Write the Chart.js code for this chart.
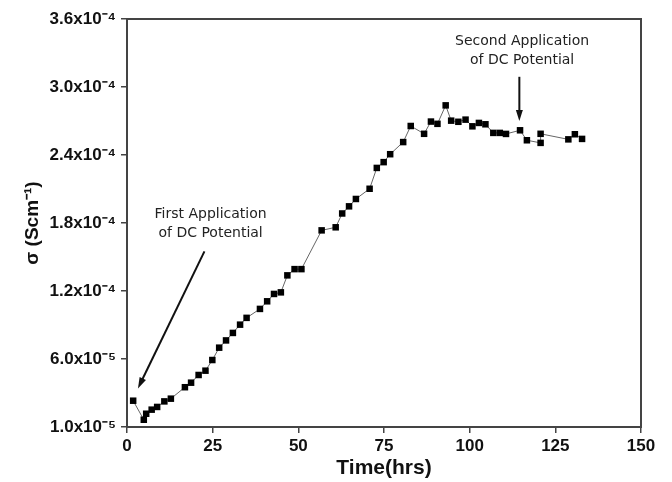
<!DOCTYPE html>
<html>
<head>
<meta charset="utf-8">
<script src="https://cdn.jsdelivr.net/npm/chart.js@4.4.0/dist/chart.umd.min.js"></script>
<style>
  html, body { margin: 0; padding: 0; background: #fff; }
  #wrap { width: 672px; height: 482px; }
</style>
</head>
<body>
<div id="wrap"><canvas id="chart" width="672" height="482"></canvas></div>
<script>
// time in hours, conductivity in units of 1e-5 S/cm
const timeHrs = [1.8, 4.9, 5.6, 7.2, 8.8, 10.9, 12.8, 16.9, 18.7, 20.9,
  22.9, 24.9, 26.9, 28.9, 30.9, 33.0, 34.9, 38.8, 40.9, 42.9,
  44.9, 46.8, 48.9, 50.9, 56.8, 60.9, 62.8, 64.8, 66.8, 70.8,
  72.9, 74.9, 76.8, 80.6, 82.8, 86.7, 88.7, 90.6, 93.0, 94.6,
  96.7, 98.8, 100.8, 102.7, 104.6, 106.9, 108.8, 110.6, 114.7, 116.7,
  120.7, 120.7, 128.8, 130.7, 132.8];
const sigma = [2.32, 0.64, 1.17, 1.53, 1.77, 2.26, 2.50, 3.51, 3.91, 4.59,
  4.97, 5.91, 7.00, 7.64, 8.30, 9.03, 9.63, 10.42, 11.09, 11.74,
  11.88, 13.38, 13.93, 13.93, 17.35, 17.62, 18.84, 19.47, 20.12, 21.02,
  22.86, 23.37, 24.07, 25.14, 26.56, 25.87, 26.95, 26.75, 28.38, 27.03,
  26.93, 27.12, 26.53, 26.83, 26.71, 25.95, 25.95, 25.86, 26.18, 25.30,
  25.07, 25.87, 25.38, 25.83, 25.42];
const yTickLabels = ['1.0x10⁻⁵', '6.0x10⁻⁵', '1.2x10⁻⁴', '1.8x10⁻⁴', '2.4x10⁻⁴', '3.0x10⁻⁴', '3.6x10⁻⁴'];

// annotation text + arrows, in data units
const notes = [
  { lines: ['First Application', 'of DC Potential'], x: 24.4, y: [18.8, 17.1], from: [22.6, 15.5], to: [3.2, 3.4] },
  { lines: ['Second Application', 'of DC Potential'], x: 115.3, y: [34.0, 32.35], from: [114.5, 30.9], to: [114.5, 27.0] }
];

const axisColor = '#444';
const labelFont = { family: '"Liberation Sans", Arial, sans-serif', size: 17, weight: 'bold' };

const frame = {
  id: 'frame',
  afterDraw(chart) {
    const { ctx, chartArea: a, scales } = chart;
    ctx.save();
    ctx.strokeStyle = axisColor;
    ctx.lineWidth = 2;
    ctx.strokeRect(a.left, a.top, a.right - a.left, a.bottom - a.top);

    ctx.font = '14px "DejaVu Sans", sans-serif';
    ctx.textAlign = 'center';
    ctx.textBaseline = 'middle';
    notes.forEach(n => {
      ctx.fillStyle = '#222';
      n.lines.forEach((t, i) => {
        ctx.fillText(t, scales.x.getPixelForValue(n.x), scales.y.getPixelForValue(n.y[i]));
      });
      const x1 = scales.x.getPixelForValue(n.from[0]), y1 = scales.y.getPixelForValue(n.from[1]);
      const x2 = scales.x.getPixelForValue(n.to[0]), y2 = scales.y.getPixelForValue(n.to[1]);
      const ang = Math.atan2(y2 - y1, x2 - x1);
      const len = 11, hw = 3.5;
      ctx.strokeStyle = '#111';
      ctx.lineWidth = 2;
      ctx.beginPath();
      ctx.moveTo(x1, y1);
      ctx.lineTo(x2 - Math.cos(ang) * len * 0.8, y2 - Math.sin(ang) * len * 0.8);
      ctx.stroke();
      ctx.fillStyle = '#111';
      ctx.beginPath();
      ctx.moveTo(x2, y2);
      ctx.lineTo(x2 - Math.cos(ang) * len - Math.sin(ang) * hw, y2 - Math.sin(ang) * len + Math.cos(ang) * hw);
      ctx.lineTo(x2 - Math.cos(ang) * len + Math.sin(ang) * hw, y2 - Math.sin(ang) * len - Math.cos(ang) * hw);
      ctx.closePath();
      ctx.fill();
    });
    ctx.restore();
  }
};

new Chart(document.getElementById('chart'), {
  type: 'line',
  data: {
    datasets: [{
      data: timeHrs.map((t, i) => ({ x: t, y: sigma[i] })),
      borderColor: '#666',
      borderWidth: 1,
      pointStyle: 'rect',
      pointRadius: 4.6,
      pointBackgroundColor: '#000',
      pointBorderWidth: 0,
      tension: 0,
      clip: false
    }]
  },
  options: {
    responsive: false,
    animation: false,
    devicePixelRatio: 1,
    layout: { padding: { top: 19, right: 31, left: 0, bottom: 0 } },
    plugins: { legend: { display: false }, tooltip: { enabled: false } },
    scales: {
      x: {
        type: 'linear', min: 0, max: 150,
        ticks: { stepSize: 25, font: labelFont, color: '#111', padding: 3, maxRotation: 0 },
        grid: { drawOnChartArea: false, drawTicks: true, tickLength: 6, color: axisColor, lineWidth: 1.5 },
        border: { color: axisColor, width: 2 },
        title: { display: true, text: 'Time(hrs)', color: '#111', padding: { top: 0, bottom: 1 },
          font: { family: '"Liberation Sans", Arial, sans-serif', size: 21, weight: 'bold' } },
        afterFit: s => { s.height = 55; }
      },
      y: {
        min: 0, max: 36,
        ticks: { stepSize: 6, font: labelFont, color: '#111', padding: 5,
          callback: (v, i) => yTickLabels[i] },
        grid: { drawOnChartArea: false, drawTicks: true, tickLength: 6, color: axisColor, lineWidth: 1.5 },
        border: { color: axisColor, width: 2 },
        title: { display: true, text: 'σ (Scm⁻¹)', color: '#111', padding: { top: 21, bottom: 0 },
          font: { family: '"Liberation Sans", Arial, sans-serif', size: 19, weight: 'bold' } },
        afterFit: s => { s.width = 127; }
      }
    }
  },
  plugins: [frame]
});
</script>
</body>
</html>
